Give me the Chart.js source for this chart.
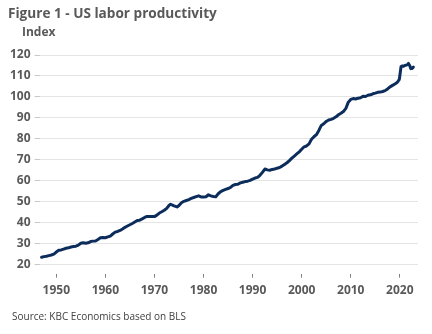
<!DOCTYPE html>
<html>
<head>
<meta charset="utf-8">
<script src="https://cdn.jsdelivr.net/npm/chart.js@4/dist/chart.umd.min.js"></script>
<style>
  html, body { margin: 0; padding: 0; background: #ffffff; }
  #wrap { position: relative; width: 432px; height: 334px; overflow: hidden; }
  #chart { position: absolute; left: 0; top: 0; }
  .txt { position: absolute; font-family: "Open Sans", sans-serif; white-space: nowrap; }
  #title { left: 8px; top: 3px; font-size: 13.6px; font-weight: 700; color: #595959; }
  #unit { left: 22px; top: 23px; font-size: 12px; font-weight: 700; color: #595959; }
  #source { left: 12px; top: 309px; font-size: 10px; color: #404040; }
</style>
</head>
<body>
<div id="wrap">
  <canvas id="chart" width="432" height="334"></canvas>
  <div id="title" class="txt">Figure 1 - US labor productivity</div>
  <div id="unit" class="txt">Index</div>
  <div id="source" class="txt">Source: KBC Economics based on BLS</div>
</div>
<script>
// Nonfarm business labor productivity index (time in years, value = index level)
const years = [
  1947.0, 1947.5, 1948.0, 1948.5, 1949.0, 1949.5, 1950.0, 1950.5, 1951.0, 1951.5,
  1952.0, 1952.5, 1953.0, 1953.5, 1954.0, 1954.5, 1955.0, 1955.5, 1956.0, 1956.5,
  1957.0, 1957.5, 1958.0, 1958.5, 1959.0, 1959.5, 1960.0, 1960.5, 1961.0, 1961.5,
  1962.0, 1962.5, 1963.0, 1963.5, 1964.0, 1964.5, 1965.0, 1965.5, 1966.0, 1966.5,
  1967.0, 1967.5, 1968.0, 1968.5, 1969.0, 1969.5, 1970.0, 1970.5, 1971.0, 1971.5,
  1972.0, 1972.5, 1973.0, 1973.3, 1974.0, 1974.6, 1975.0, 1975.5, 1976.0, 1976.5,
  1977.0, 1977.5, 1978.0, 1978.5, 1979.0, 1979.5, 1980.0, 1980.5, 1981.0, 1981.5,
  1982.0, 1982.5, 1983.0, 1983.5, 1984.0, 1984.5, 1985.0, 1985.5, 1986.0, 1986.5,
  1987.0, 1987.5, 1988.0, 1988.5, 1989.0, 1989.5, 1990.0, 1990.5, 1991.0, 1991.5,
  1992.0, 1992.5, 1993.0, 1993.5, 1994.0, 1994.5, 1995.0, 1995.5, 1996.0, 1996.5,
  1997.0, 1997.5, 1998.0, 1998.5, 1999.0, 1999.5, 2000.0, 2000.5, 2001.0, 2001.5,
  2002.0, 2002.5, 2003.0, 2003.5, 2004.0, 2004.5, 2005.0, 2005.5, 2006.0, 2006.5,
  2007.0, 2007.5, 2008.0, 2008.5, 2009.0, 2009.5, 2010.0, 2010.5, 2011.0, 2011.5,
  2012.0, 2012.5, 2013.0, 2013.5, 2014.0, 2014.5, 2015.0, 2015.5, 2016.0, 2016.5,
  2017.0, 2017.5, 2018.0, 2018.5, 2019.0, 2019.5, 2019.9, 2020.25, 2020.5, 2020.75,
  2021.0, 2021.5, 2021.75, 2022.0, 2022.25, 2022.5, 2022.75
];
const productivity = [
  23.5, 23.8, 24.0, 24.3, 24.6, 25.0, 26.0, 26.8, 27.0, 27.4,
  27.8, 28.0, 28.4, 28.6, 28.8, 29.3, 30.2, 30.4, 30.2, 30.4,
  31.0, 31.2, 31.3, 32.0, 32.8, 32.9, 32.8, 33.2, 33.6, 34.6,
  35.5, 35.8, 36.3, 37.0, 37.8, 38.4, 39.0, 39.6, 40.3, 41.0,
  41.2, 41.8, 42.5, 43.0, 43.0, 42.9, 42.9, 43.6, 44.6, 45.2,
  45.9, 46.8, 48.3, 48.8, 48.0, 47.5, 48.2, 49.5, 50.2, 50.6,
  51.0, 51.6, 52.0, 52.4, 52.8, 52.3, 52.2, 52.4, 53.3, 52.8,
  52.5, 52.4, 53.8, 54.8, 55.4, 55.9, 56.3, 56.8, 57.8, 58.2,
  58.3, 59.0, 59.3, 59.6, 59.8, 60.2, 60.8, 61.3, 61.6, 62.6,
  64.0, 65.6, 65.2, 65.0, 65.4, 65.6, 66.0, 66.3, 67.0, 67.8,
  68.6, 69.6, 70.8, 71.8, 72.8, 73.8, 75.0, 76.2, 76.6, 77.6,
  79.8, 81.0, 82.0, 84.0, 86.4, 87.2, 88.3, 89.0, 89.3, 89.8,
  90.5, 91.5, 92.2, 93.0, 94.5, 97.5, 98.8, 99.2, 99.0, 99.4,
  99.6, 100.3, 100.2, 100.8, 101.0, 101.5, 101.8, 102.2, 102.3, 102.6,
  103.0, 103.8, 104.8, 105.5, 106.2, 107.0, 108.4, 114.5, 114.8, 114.6,
  115.0, 115.3, 116.0, 115.0, 113.5, 113.6, 114.2
];
const xTicks = [1950, 1960, 1970, 1980, 1990, 2000, 2010, 2020];
const yTicks = [20, 30, 40, 50, 60, 70, 80, 90, 100, 110, 120];

const points = years.map((x, i) => ({ x: x, y: productivity[i] }));
const tickFont = { family: '"Open Sans", sans-serif', size: 12, weight: 'bold' };

new Chart(document.getElementById('chart'), {
  type: 'line',
  data: {
    datasets: [{
      data: points,
      borderColor: '#0c2d5c',
      borderWidth: 3,
      pointRadius: 0,
      tension: 0,
      borderJoinStyle: 'round',
      borderCapStyle: 'round'
    }]
  },
  options: {
    responsive: false,
    animation: false,
    events: [],
    layout: { padding: { left: 6, right: 14, top: 55, bottom: 30 } },
    plugins: { legend: { display: false }, tooltip: { enabled: false } },
    scales: {
      x: {
        type: 'linear',
        min: 1946.6,
        max: 2023.7,
        afterBuildTicks: (axis) => { axis.ticks = xTicks.map(v => ({ value: v })); },
        border: { display: false },
        grid: {
          drawOnChartArea: false,
          drawTicks: true,
          tickLength: 13,
          tickColor: '#7f7f7f',
          tickBorderDash: [4, 9],
          tickBorderDashOffset: 4
        },
        ticks: {
          font: tickFont, color: '#595959', padding: 6, maxRotation: 0, autoSkip: false,
          callback: (v) => String(v)
        }
      },
      y: {
        min: 20,
        max: 120,
        afterBuildTicks: (axis) => { axis.ticks = yTicks.map(v => ({ value: v })); },
        border: { display: false },
        grid: { color: '#e4e4e4', tickColor: '#c8c8c8', tickLength: 5, lineWidth: 1 },
        ticks: { font: tickFont, color: '#595959', padding: 4 }
      }
    }
  }
});
</script>
</body>
</html>
